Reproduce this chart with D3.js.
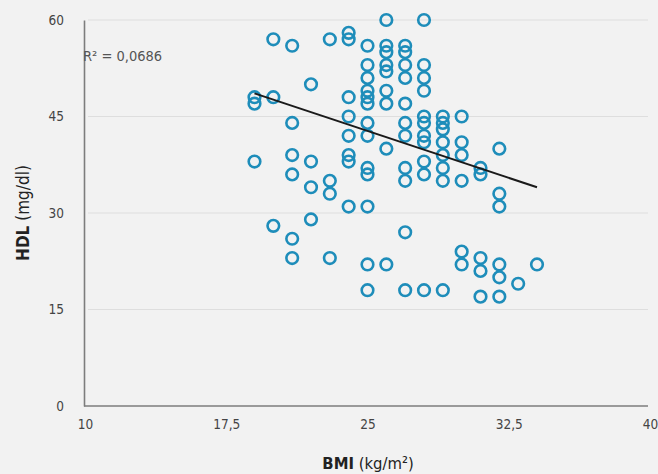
<!DOCTYPE html>
<html><head><meta charset="utf-8">
<script src="https://cdn.jsdelivr.net/npm/d3@7"></script>
<style>
html,body{margin:0;padding:0;background:#f2f2f2;}
svg{display:block;}
text{font-family:"DejaVu Sans Condensed","DejaVu Sans",sans-serif;font-stretch:condensed;}
</style></head>
<body><svg id="c" width="658" height="474"></svg>
<script>
// BMI (kg/m²) column values and HDL (mg/dl) readings per column
const bmiValues = [19,20,21,22,23,24,25,26,27,28,29,30,31,32,33,34];
const hdlByBmi = [
  [48,47,38],
  [57,48,28],
  [56,44,39,36,26,23],
  [50,38,34,29],
  [57,35,33,23],
  [58,57,48,45,42,39,38,31],
  [56,53,51,49,48,47,44,42,37,36,31,22,18],
  [60,56,55,53,52,49,47,40,22],
  [56,55,53,51,47,44,42,37,35,27,18],
  [60,53,51,49,45,44,42,41,38,36,18],
  [45,44,43,41,39,37,35,18],
  [45,41,39,35,24,22],
  [37,36,23,21,17],
  [40,33,31,22,20,17],
  [19],
  [22]
];
const trendX = [19, 34];
const trendY = [48.6, 34.0];
const xTicks = [10, 17.5, 25, 32.5, 40];
const yTicks = [0, 15, 30, 45, 60];
const r2Label = "R² = 0,0686";

const svg = d3.select("#c");
const x = d3.scaleLinear().domain([10, 40]).range([85, 650]);
const y = d3.scaleLinear().domain([0, 60]).range([406, 20]);
const fmt = d => String(d).replace(".", ",");

// gridlines
svg.append("g").selectAll("line").data(yTicks.filter(d => d > 0)).join("line")
  .attr("x1", 88).attr("x2", 648)
  .attr("y1", d => y(d)).attr("y2", d => y(d))
  .attr("stroke", "#dedede").attr("stroke-width", 1.2);

// y axis
const ya = svg.append("g").attr("transform", "translate(84,0)")
  .call(d3.axisLeft(y).tickValues(yTicks).tickSize(0).tickPadding(20).tickFormat(fmt));
ya.select(".domain").attr("stroke", "#7d7d7d").attr("stroke-width", 1.6);
ya.selectAll("text").attr("font-size", 13.5).attr("fill", "#444");

// x axis
const xa = svg.append("g").attr("transform", "translate(0,406)")
  .call(d3.axisBottom(x).tickValues(xTicks).tickSize(0).tickPadding(13).tickFormat(fmt));
xa.select(".domain").attr("d", `M84,0H648`).attr("stroke", "#7d7d7d").attr("stroke-width", 1.6);
xa.selectAll("text").attr("font-size", 13.5).attr("fill", "#444");

// points
const pts = [];
bmiValues.forEach((b, i) => hdlByBmi[i].forEach(v => pts.push([b, v])));
svg.append("g").selectAll("circle").data(pts).join("circle")
  .attr("cx", d => x(d[0])).attr("cy", d => y(d[1])).attr("r", 5.8)
  .attr("fill", "none").attr("stroke", "#1e8dba").attr("stroke-width", 2.6);

// trendline
svg.append("line")
  .attr("x1", x(trendX[0])).attr("y1", y(trendY[0]))
  .attr("x2", x(trendX[1])).attr("y2", y(trendY[1]))
  .attr("stroke", "#1a1a1a").attr("stroke-width", 2);

// R² label
svg.append("text").attr("x", 83).attr("y", 61).attr("font-size", 14.5).attr("fill", "#555").text(r2Label);

// axis titles
const yt = svg.append("text").attr("transform", "translate(29,213) rotate(-90)")
  .attr("text-anchor", "middle").attr("font-size", 17).attr("fill", "#222");
yt.append("tspan").attr("font-weight", "bold").text("HDL");
yt.append("tspan").text(" (mg/dl)");

const xt = svg.append("text").attr("x", 368).attr("y", 469)
  .attr("text-anchor", "middle").attr("font-size", 16.5).attr("fill", "#222");
xt.append("tspan").attr("font-weight", "bold").text("BMI");
xt.append("tspan").text(" (kg/m²)");
</script></body></html>
